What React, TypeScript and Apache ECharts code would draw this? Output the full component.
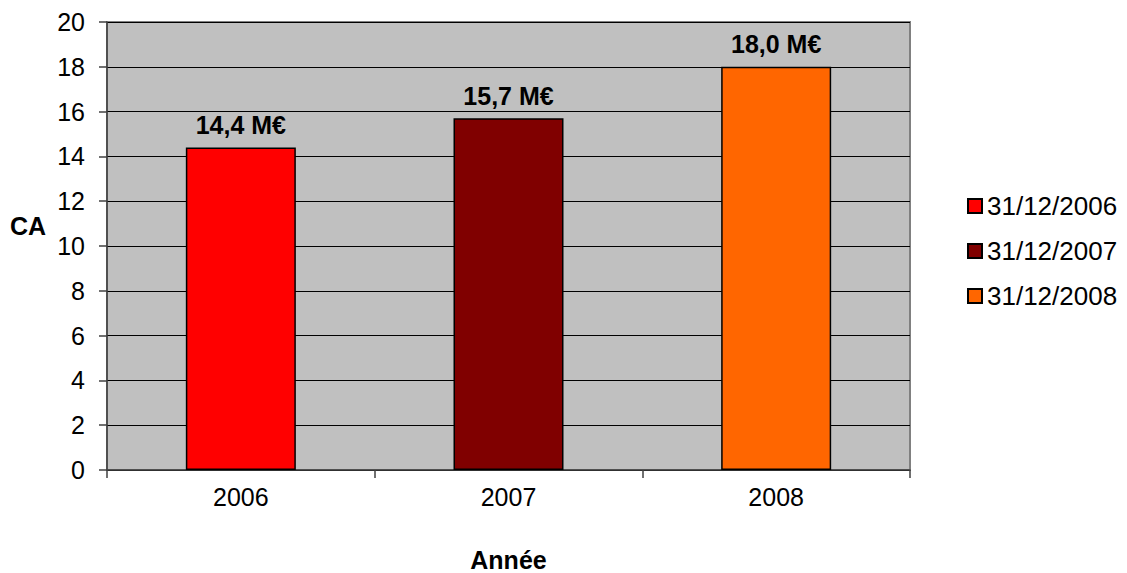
import React, { useEffect, useRef } from "react";
import * as echarts from "echarts";

const categories = ["2006", "2007", "2008"];
const seriesNames = ["31/12/2006", "31/12/2007", "31/12/2008"];
const values = [14.4, 15.7, 18.0];
const colors = ["#FF0000", "#800000", "#FF6600"];
const yTicks = { min: 0, max: 20, interval: 2 };

const FONT = "'Liberation Sans', Arial, sans-serif";

export default function App() {
  const ref = useRef<HTMLDivElement>(null);
  useEffect(() => {
    document.body.style.margin = "0";
    if (!ref.current) return;
    const chart = echarts.init(ref.current, null, { renderer: "svg" });
    const series = seriesNames.map((name, i) => ({
      name,
      type: "bar",
      stack: "all",
      barWidth: 110,
      data: values.map((v, j) => (j === i ? v : "-")),
      itemStyle: { color: colors[i], borderColor: "#000", borderWidth: 1.5 },
      label: {
        show: true,
        position: "top",
        distance: 10,
        fontFamily: FONT,
        fontSize: 25,
        fontWeight: "bold",
        color: "#000",
        formatter: (p: any) => p.value.toFixed(1).replace(".", ",") + " M€",
      },
    }));
    chart.setOption({
      animation: false,
      textStyle: { fontFamily: FONT },
      grid: {
        left: 107,
        top: 22,
        right: 217,
        bottom: 103,
        outerBoundsMode: "none",
        containLabel: false,
        show: true,
        backgroundColor: "#C0C0C0",
        borderColor: "#808080",
        borderWidth: 2,
      },
      legend: {
        orient: "vertical",
        left: 962,
        top: 188,
        icon: "rect",
        itemWidth: 14,
        itemHeight: 14,
        itemGap: 19,
        data: seriesNames,
        textStyle: { fontFamily: FONT, fontSize: 26, color: "#000", lineHeight: 26 },
      },
      xAxis: {
        type: "category",
        data: categories,
        name: "Année",
        nameLocation: "middle",
        nameGap: 77,
        nameTextStyle: { fontFamily: FONT, fontSize: 25, fontWeight: "bold", color: "#000" },
        axisLine: { show: true, lineStyle: { color: "#404040", width: 1.5 } },
        axisTick: { show: true, length: 8, lineStyle: { color: "#404040", width: 1.5 } },
        axisLabel: { fontFamily: FONT, fontSize: 25, color: "#000", margin: 14 },
      },
      yAxis: {
        type: "value",
        min: yTicks.min,
        max: yTicks.max,
        interval: yTicks.interval,
        axisLine: { show: true, lineStyle: { color: "#404040", width: 1.5 } },
        axisTick: { show: true, length: 8, lineStyle: { color: "#404040", width: 1.5 } },
        axisLabel: { fontFamily: FONT, fontSize: 25, color: "#000", margin: 22 },
        splitLine: { show: true, lineStyle: { color: "#000", width: 1 } },
      },
      graphic: [
        {
          type: "text",
          left: 10,
          top: 213,
          style: { text: "CA", fontFamily: FONT, fontSize: 25, fontWeight: "bold", fill: "#000" },
        },
      ],
      series,
    });
    return () => chart.dispose();
  }, []);
  return <div ref={ref} style={{ width: 1127, height: 573 }} />;
}
